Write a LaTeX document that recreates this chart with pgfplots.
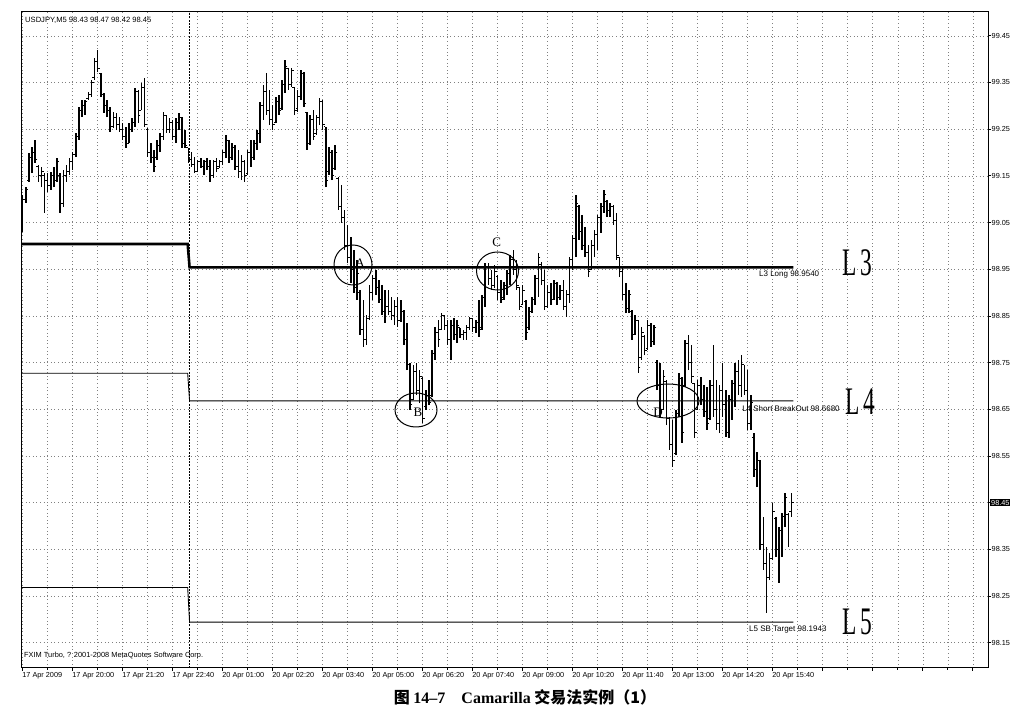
\documentclass[border=0pt]{standalone}
\usepackage{fontspec}
\setmainfont{Liberation Sans}
\newfontfamily\serif{Liberation Serif}
\newfontfamily\cjk{Noto Sans CJK SC}
\usepackage{graphicx}
\usepackage{pgfplots}
\usepackage{pgfplotstable}
\pgfplotsset{compat=1.18}

% USDJPY M5 bars: index, high, low, open, close
\pgfplotstableread{
i hi lo op cl
0 99.109 99.030 99.040 99.100
1 99.126 99.092 99.100 99.120
2 99.199 99.137 99.140 99.190
3 99.212 99.156 99.190 99.200
4 99.227 99.178 99.200 99.185
5 99.173 99.137 99.170 99.150
6 99.169 99.126 99.150 99.160
7 99.156 99.071 99.150 99.140
8 99.156 99.116 99.140 99.130
9 99.158 99.120 99.130 99.150
10 99.169 99.126 99.150 99.140
11 99.188 99.137 99.140 99.180
12 99.156 99.071 99.150 99.090
13 99.163 99.083 99.090 99.150
14 99.173 99.137 99.150 99.160
15 99.188 99.152 99.160 99.180
16 99.201 99.163 99.180 99.195
17 99.242 99.191 99.195 99.235
18 99.298 99.227 99.235 99.290
19 99.313 99.276 99.290 99.300
20 99.313 99.281 99.300 99.310
21 99.330 99.313 99.315 99.325
22 99.356 99.319 99.325 99.350
23 99.403 99.356 99.360 99.395
24 99.420 99.373 99.395 99.380
25 99.371 99.319 99.370 99.325
26 99.328 99.285 99.325 99.300
27 99.313 99.276 99.300 99.290
28 99.298 99.244 99.290 99.255
29 99.287 99.253 99.255 99.275
30 99.285 99.248 99.275 99.260
31 99.276 99.244 99.260 99.250
32 99.263 99.227 99.250 99.235
33 99.255 99.210 99.235 99.220
34 99.263 99.221 99.220 99.250
35 99.274 99.244 99.250 99.265
36 99.338 99.255 99.265 99.330
37 99.334 99.263 99.330 99.280
38 99.349 99.291 99.290 99.340
39 99.360 99.255 99.340 99.260
40 99.253 99.191 99.250 99.200
41 99.221 99.178 99.200 99.190
42 99.206 99.158 99.190 99.170
43 99.227 99.184 99.190 99.215
44 99.242 99.201 99.215 99.235
45 99.287 99.227 99.235 99.280
46 99.281 99.242 99.280 99.250
47 99.274 99.242 99.250 99.265
48 99.270 99.227 99.265 99.235
49 99.274 99.221 99.235 99.265
50 99.285 99.248 99.265 99.275
51 99.276 99.210 99.275 99.220
52 99.248 99.210 99.220 99.215
53 99.210 99.178 99.210 99.185
54 99.201 99.169 99.185 99.175
55 99.191 99.156 99.175 99.160
56 99.184 99.158 99.160 99.180
57 99.188 99.167 99.180 99.170
58 99.184 99.152 99.170 99.180
59 99.188 99.163 99.180 99.170
60 99.184 99.137 99.170 99.150
61 99.184 99.146 99.150 99.180
62 99.188 99.158 99.180 99.165
63 99.184 99.167 99.170 99.180
64 99.206 99.173 99.180 99.200
65 99.238 99.188 99.200 99.225
66 99.227 99.178 99.225 99.190
67 99.221 99.184 99.190 99.210
68 99.216 99.163 99.210 99.170
69 99.206 99.146 99.170 99.160
70 99.195 99.141 99.160 99.180
71 99.184 99.137 99.180 99.150
72 99.206 99.152 99.155 99.200
73 99.227 99.169 99.200 99.190
74 99.227 99.184 99.190 99.220
75 99.248 99.206 99.220 99.240
76 99.308 99.221 99.240 99.300
77 99.345 99.270 99.300 99.330
78 99.371 99.281 99.330 99.290
79 99.334 99.259 99.290 99.270
80 99.302 99.248 99.270 99.260
81 99.319 99.263 99.265 99.310
82 99.323 99.281 99.310 99.290
83 99.356 99.291 99.295 99.345
84 99.398 99.328 99.345 99.385
85 99.381 99.334 99.380 99.345
86 99.381 99.341 99.345 99.375
87 99.341 99.281 99.340 99.290
88 99.334 99.287 99.295 99.320
89 99.377 99.313 99.320 99.370
90 99.373 99.298 99.370 99.305
91 99.287 99.206 99.285 99.220
92 99.281 99.216 99.220 99.270
93 99.291 99.227 99.270 99.235
94 99.281 99.238 99.240 99.275
95 99.317 99.259 99.275 99.310
96 99.313 99.248 99.310 99.260
97 99.255 99.126 99.255 99.140
98 99.212 99.152 99.160 99.200
99 99.206 99.141 99.200 99.150
100 99.216 99.163 99.165 99.200
101 99.148 99.077 99.145 99.085
102 99.131 99.049 99.085 99.060
103 99.077 98.991 99.060 99.000
104 99.045 98.963 99.000 98.975
105 99.019 98.921 98.975 98.950
106 98.991 98.899 98.950 98.910
107 98.970 98.884 98.910 98.940
108 98.906 98.809 98.900 98.820
109 98.884 98.784 98.820 98.800
110 98.852 98.788 98.800 98.845
111 98.916 98.841 98.845 98.900
112 98.938 98.884 98.900 98.930
113 98.949 98.895 98.930 98.910
114 98.927 98.878 98.910 98.885
115 98.916 98.852 98.885 98.860
116 98.906 98.835 98.860 98.870
117 98.906 98.852 98.870 98.860
118 98.891 98.841 98.860 98.850
119 98.884 98.831 98.850 98.870
120 98.891 98.826 98.870 98.840
121 98.884 98.837 98.840 98.860
122 98.863 98.788 98.860 98.800
123 98.835 98.734 98.800 98.745
124 98.749 98.649 98.745 98.660
125 98.745 98.670 98.670 98.730
126 98.749 98.681 98.730 98.690
127 98.734 98.663 98.690 98.720
128 98.719 98.621 98.715 98.630
129 98.691 98.649 98.655 98.680
130 98.713 98.659 98.680 98.665
131 98.777 98.676 98.680 98.770
132 98.826 98.756 98.770 98.815
133 98.841 98.784 98.815 98.800
134 98.856 98.820 98.820 98.850
135 98.852 98.820 98.850 98.830
136 98.841 98.788 98.830 98.800
137 98.841 98.756 98.800 98.830
138 98.846 98.799 98.830 98.810
139 98.841 98.792 98.810 98.830
140 98.824 98.803 98.824 98.810
141 98.820 98.799 98.810 98.815
142 98.831 98.799 98.815 98.825
143 98.848 98.820 98.825 98.845
144 98.846 98.816 98.845 98.825
145 98.841 98.813 98.825 98.835
146 98.884 98.805 98.835 98.820
147 98.895 98.820 98.825 98.890
148 98.963 98.869 98.890 98.955
149 98.963 98.916 98.955 98.930
150 98.949 98.906 98.930 98.915
151 98.959 98.910 98.915 98.945
152 98.938 98.884 98.935 98.900
153 98.927 98.878 98.900 98.885
154 98.923 98.884 98.890 98.915
155 98.949 98.895 98.915 98.940
156 98.981 98.916 98.940 98.970
157 98.991 98.938 98.970 98.950
158 98.970 98.906 98.950 98.915
159 98.912 98.863 98.910 98.870
160 98.916 98.874 98.875 98.905
161 98.884 98.799 98.880 98.815
162 98.869 98.820 98.825 98.860
163 98.891 98.856 98.860 98.885
164 98.938 98.874 98.885 98.930
165 98.985 98.891 98.930 98.975
166 98.966 98.916 98.960 98.925
167 98.949 98.863 98.925 98.870
168 98.916 98.867 98.870 98.900
169 98.921 98.874 98.900 98.885
170 98.927 98.884 98.885 98.920
171 98.923 98.874 98.920 98.890
172 98.916 98.884 98.890 98.905
173 98.927 98.863 98.905 98.870
174 98.906 98.848 98.870 98.895
175 98.976 98.878 98.895 98.970
176 99.023 98.949 98.970 99.015
177 99.109 98.976 99.015 99.090
178 99.088 99.013 99.085 99.030
179 99.066 98.991 99.030 99.000
180 99.041 98.976 99.000 98.985
181 99.002 98.933 98.985 98.945
182 99.013 98.949 98.950 99.000
183 99.034 98.976 99.000 99.025
184 99.066 98.991 99.025 99.060
185 99.092 99.028 99.060 99.085
186 99.120 99.071 99.085 99.110
187 99.099 99.062 99.095 99.075
188 99.092 99.062 99.075 99.085
189 99.088 99.045 99.085 99.055
190 99.071 98.970 99.055 98.980
191 98.976 98.933 98.975 98.945
192 98.955 98.884 98.945 98.895
193 98.921 98.856 98.895 98.865
194 98.906 98.856 98.865 98.895
195 98.863 98.799 98.860 98.810
196 98.852 98.809 98.810 98.840
197 98.841 98.728 98.840 98.740
198 98.826 98.756 98.760 98.815
199 98.809 98.766 98.805 98.775
200 98.841 98.777 98.780 98.830
201 98.835 98.784 98.830 98.795
202 98.831 98.788 98.795 98.825
203 98.756 98.691 98.750 98.700
204 98.749 98.634 98.700 98.650
205 98.734 98.649 98.650 98.720
206 98.713 98.616 98.710 98.630
207 98.634 98.563 98.630 98.575
208 98.627 98.526 98.575 98.540
209 98.649 98.552 98.555 98.640
210 98.728 98.634 98.640 98.715
211 98.719 98.578 98.715 98.600
212 98.799 98.698 98.700 98.790
213 98.809 98.734 98.790 98.750
214 98.788 98.706 98.750 98.720
215 98.706 98.588 98.706 98.600
216 98.713 98.649 98.650 98.700
217 98.719 98.659 98.700 98.670
218 98.702 98.634 98.670 98.645
219 98.698 98.606 98.645 98.620
220 98.713 98.627 98.630 98.700
221 98.788 98.634 98.700 98.650
222 98.713 98.606 98.650 98.620
223 98.702 98.599 98.620 98.690
224 98.749 98.634 98.690 98.660
225 98.691 98.591 98.660 98.600
226 98.681 98.588 98.600 98.670
227 98.713 98.627 98.670 98.705
228 98.749 98.655 98.705 98.730
229 98.756 98.681 98.730 98.700
230 98.766 98.676 98.700 98.745
231 98.745 98.681 98.745 98.690
232 98.734 98.606 98.690 98.620
233 98.681 98.606 98.620 98.665
234 98.599 98.505 98.590 98.520
235 98.558 98.483 98.520 98.540
236 98.541 98.349 98.540 98.360
237 98.419 98.306 98.360 98.320
238 98.355 98.214 98.320 98.290
239 98.342 98.284 98.290 98.330
240 98.449 98.327 98.330 98.430
241 98.419 98.333 98.415 98.350
242 98.398 98.278 98.350 98.390
243 98.428 98.333 98.390 98.420
244 98.471 98.398 98.420 98.460
245 98.428 98.355 98.425 98.430
246 98.470 98.420 98.430 98.450
}\bars

\begin{document}
\begin{tikzpicture}[x=1pt,y=1pt]
\begin{axis}[
  at={(0,0)}, anchor=south west,
  scale only axis, width=966pt, height=656pt,
  xmin=-0.22, xmax=308.9, ymin=98.0956, ymax=99.501,
  clip=false,
  axis line style={black, line width=1pt},
  xtick={0,16,...,304},
  minor xtick={8,24,...,304},
  xticklabels={17 Apr 2009, 17 Apr 20:00, 17 Apr 21:20, 17 Apr 22:40,
    20 Apr 01:00, 20 Apr 02:20, 20 Apr 03:40, 20 Apr 05:00, 20 Apr 06:20,
    20 Apr 07:40, 20 Apr 09:00, 20 Apr 10:20, 20 Apr 11:40, 20 Apr 13:00,
    20 Apr 14:20, 20 Apr 15:40, {}, {}, {}, {}},
  ytick={98.15,98.25,98.35,98.45,98.55,98.65,98.75,98.85,98.95,99.05,99.15,99.25,99.35,99.45},
  yticklabels={98.15,98.25,98.35,{},98.55,98.65,98.75,98.85,98.95,99.05,99.15,99.25,99.35,99.45},
  xtick pos=left, ytick pos=right,
  tick align=outside,
  major tick length=3pt, minor tick length=2pt,
  tick style={black, line width=0.7pt},
  grid=both,
  major grid style={black!50, dash pattern=on 0.6pt off 3pt},
  minor grid style={black!50, dash pattern=on 0.6pt off 3pt},
  ticklabel style={font=\fontsize{7.3}{8}\selectfont},
  xticklabel style={anchor=north west, inner sep=0pt, xshift=-0.5pt, yshift=-1.5pt},
  yticklabel style={anchor=west, inner sep=0pt, xshift=0.5pt},
]
% high-low range of each bar
\addplot[draw=none, mark=none, forget plot,
  error bars/.cd, y dir=plus, y explicit, error mark=none,
  error bar style={draw=black, solid, line width=1.4pt}]
  table[x=i, y=lo, y error expr=\thisrow{hi}-\thisrow{lo}] {\bars};
% open and close ticks
\addplot[only marks, mark=-, mark size=0.9pt, black, line width=1pt]
  table[x expr=\thisrow{i}-0.4, y=op] {\bars};
\addplot[only marks, mark=-, mark size=0.9pt, black, line width=1pt]
  table[x expr=\thisrow{i}+0.4, y=cl] {\bars};

% Camarilla levels
\addplot[black, line width=2.6pt] coordinates {(-0.22,99.004) (52.8,99.004) (53.4,98.954) (246.6,98.954)};
\addplot[black, line width=0.9pt] coordinates {(-0.22,98.727) (52.8,98.727) (53.4,98.668) (246.6,98.668)};
\addplot[black, line width=0.9pt] coordinates {(-0.22,98.268) (52.8,98.268) (53.4,98.194) (246.6,98.194)};

% day separator
\draw[black, line width=1.6pt, dash pattern=on 2pt off 1.2pt] (axis cs:53.35,98.0956) -- (axis cs:53.35,99.501);

\node[anchor=west, inner sep=0pt, font=\fontsize{8}{9}\selectfont] at (axis cs:235.6,98.938) {L3 Long 98.9540};
\node[anchor=west, inner sep=0pt, font=\fontsize{8}{9}\selectfont] at (axis cs:230.2,98.651) {L4 Short BreakOut 98.6680};
\node[anchor=west, inner sep=0pt, font=\fontsize{8}{9}\selectfont] at (axis cs:232.4,98.179) {L5 SB Target 98.1943};

% current price box
\node[anchor=west, fill=black, text=white, inner sep=1pt, xshift=2pt, font=\fontsize{7.3}{8}\selectfont] at (axis cs:308.9,98.45) {98.45};
\end{axis}

% chart texts
\node[anchor=west, inner sep=0pt, font=\fontsize{7.6}{8}\selectfont] at (3,648) {USDJPY,M5 98.43 98.47 98.42 98.45};
\node[anchor=west, inner sep=0pt, font=\fontsize{7.4}{8}\selectfont] at (2,12) {FXIM Turbo, ? 2001-2008 MetaQuotes Software Corp.};

% big level marks
\node[font=\serif\fontsize{39}{41}\selectfont] at (835,405) {\scalebox{0.6}[1]{L\,3}};
\node[font=\serif\fontsize{39}{41}\selectfont] at (838,266) {\scalebox{0.6}[1]{L\,4}};
\node[font=\serif\fontsize{39}{41}\selectfont] at (835,46) {\scalebox{0.6}[1]{L\,5}};

% hand-drawn circles
\draw[line width=1pt] (331,403) ellipse [x radius=19pt, y radius=20pt];
\node[font=\serif\fontsize{13}{14}\selectfont] at (338,405) {A};
\draw[line width=1pt] (394,258) ellipse [x radius=21pt, y radius=17pt];
\node[font=\serif\fontsize{13}{14}\selectfont] at (396,256) {B};
\draw[line width=1pt] (475.5,397) ellipse [x radius=21pt, y radius=19pt];
\node[font=\serif\fontsize{13}{14}\selectfont] at (474.7,426) {C};
\draw[line width=1pt] (646,267) ellipse [x radius=31pt, y radius=17pt];
\node[font=\serif\fontsize{13}{14}\selectfont] at (636,256) {D};

% caption
\node[font=\fontsize{16}{18}\selectfont] at (503,-29) {\cjk\bfseries 图\ {\serif\bfseries 14–7}\quad{\serif\bfseries Camarilla} 交易法实例（1）};

\pgfresetboundingbox
\path[use as bounding box] (-22,-46) rectangle (1008,668);
\end{tikzpicture}
\end{document}
